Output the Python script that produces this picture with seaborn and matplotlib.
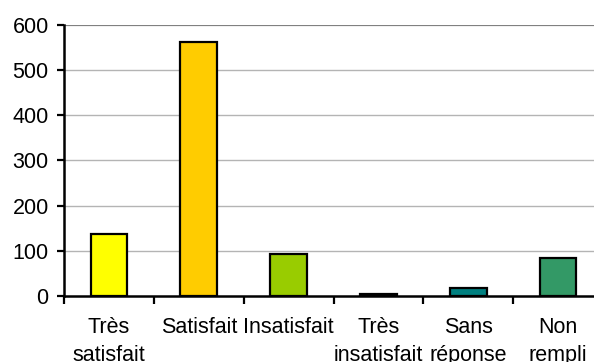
import numpy as np
import pandas as pd
import seaborn as sns
import matplotlib.pyplot as plt
from matplotlib.ticker import FixedLocator

categories = ["Très\nsatisfait", "Satisfait", "Insatisfait", "Très\ninsatisfait", "Sans\nréponse", "Non\nrempli"]
counts = [137, 563, 92, 4, 17, 85]
colors = ["#FFFF00", "#FFCC00", "#99CC00", "#000000", "#008080", "#339966"]

sns.set_style("white")
plt.rcParams["font.family"] = ["Liberation Sans", "DejaVu Sans"]
plt.rcParams["font.size"] = 15.5

df = pd.DataFrame({"categorie": categories, "nombre": counts})

fig = plt.figure(figsize=(5.94, 3.62), dpi=100)
ax = fig.add_axes([64 / 594, 66 / 362, 539 / 594, 271 / 362])

sns.barplot(
    data=df,
    x="categorie",
    y="nombre",
    hue="categorie",
    palette=colors,
    saturation=1,
    legend=False,
    width=0.41,
    edgecolor="black",
    linewidth=1.6,
    ax=ax,
    zorder=3,
)

ax.set_xlim(-0.5, len(categories) - 0.5)
ax.set_ylim(0, 600)
ax.set_yticks(range(0, 601, 100))
ax.set_xlabel("")
ax.set_ylabel("")

# horizontal grid lines
for v in range(100, 600, 100):
    ax.axhline(v, color="#B4B4B4", linewidth=1.0, zorder=1)
ax.axhline(600, color="#808080", linewidth=1.6, zorder=1)

for side in ["top", "right"]:
    ax.spines[side].set_visible(False)
for side in ["left", "bottom"]:
    ax.spines[side].set_color("black")
    ax.spines[side].set_linewidth(1.8)
    ax.spines[side].set_zorder(4)

ax.tick_params(axis="y", which="major", length=5, width=1.6, color="black",
               pad=6, left=True, labelsize=15.5, labelcolor="black")
ax.tick_params(axis="x", which="major", length=0, pad=15, labelsize=15.5,
               labelcolor="black")
ax.xaxis.set_minor_locator(FixedLocator(np.arange(-0.5, len(categories) - 0.5, 1.0)))
ax.tick_params(axis="x", which="minor", length=5.5, width=1.6, color="black", bottom=True)
for lbl in ax.get_xticklabels():
    lbl.set_linespacing(1.45)
    lbl.set_va("top")

fig.savefig("out.png", dpi=100)
